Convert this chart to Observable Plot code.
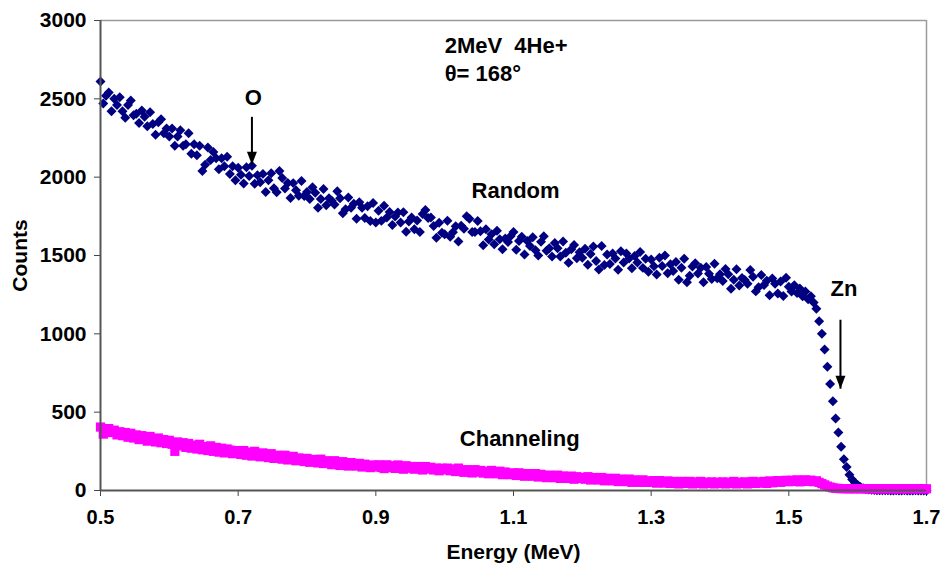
<!DOCTYPE html>
<html>
<head>
<meta charset="utf-8">
<script src="https://cdn.jsdelivr.net/npm/d3@7"></script>
<script src="https://cdn.jsdelivr.net/npm/@observablehq/plot@0.6"></script>
<style>
  html, body { margin: 0; padding: 0; background: #fff; }
  #chart svg { display: block; }
</style>
</head>
<body>
<div id="chart"></div>
<script>
// Energy channels (keV)
const energyKeV = [
  500,504,508,512,516,520,524,528,532,536,540,544,548,552,556,560,564,568,572,576,580,584,588,592,596,
  600,604,608,612,616,620,624,628,632,636,640,644,648,652,656,660,664,668,672,676,680,684,688,692,696,
  700,704,708,712,716,720,724,728,732,736,740,744,748,752,756,760,764,768,772,776,780,784,788,792,796,
  800,804,808,812,816,820,824,828,832,836,840,844,848,852,856,860,864,868,872,876,880,884,888,892,896,
  900,904,908,912,916,920,924,928,932,936,940,944,948,952,956,960,964,968,972,976,980,984,988,992,996,
  1000,1004,1008,1012,1016,1020,1024,1028,1032,1036,1040,1044,1048,1052,1056,1060,1064,1068,1072,1076,1080,1084,1088,1092,1096,
  1100,1104,1108,1112,1116,1120,1124,1128,1132,1136,1140,1144,1148,1152,1156,1160,1164,1168,1172,1176,1180,1184,1188,1192,1196,
  1200,1204,1208,1212,1216,1220,1224,1228,1232,1236,1240,1244,1248,1252,1256,1260,1264,1268,1272,1276,1280,1284,1288,1292,1296,
  1300,1304,1308,1312,1316,1320,1324,1328,1332,1336,1340,1344,1348,1352,1356,1360,1364,1368,1372,1376,1380,1384,1388,1392,1396,
  1400,1404,1408,1412,1416,1420,1424,1428,1432,1436,1440,1444,1448,1452,1456,1460,1464,1468,1472,1476,1480,1484,1488,1492,1496,
  1500,1504,1508,1512,1516,1520,1524,1528,1532,1536,1540,1544,1548,1552,1556,1560,1564,1568,1572,1576,1580,1584,1588,1592,1596,
  1600,1604,1608,1612,1616,1620,1624,1628,1632,1636,1640,1644,1648,1652,1656,1660,1664,1668,1672,1676,1680,1684,1688,1692,1696,
  1700
];

// Random spectrum counts
const randomCounts = [
  2610,2470,2520,2540,2420,2500,2460,2510,2420,2380,2460,2490,2395,2405,2345,2425,2385,2325,2415,2340,2270,2350,2370,2280,2310,
  2260,2310,2200,2260,2300,2200,2210,2280,2150,2210,2140,2200,2040,2080,2190,2110,2160,2120,2050,2120,2070,2130,2020,2070,1980,
  2060,2015,1960,2064,2008,2073,1958,2012,1967,2021,1906,1981,2025,1930,1904,2040,1994,1928,1963,1867,1962,1917,1881,1976,1880,
  1905,1860,1935,1900,1805,1860,1925,1820,1865,1850,1825,1910,1865,1770,1795,1870,1805,1830,1735,1840,1805,1740,1815,1720,1835,
  1710,1786,1721,1817,1742,1778,1694,1749,1775,1710,1776,1652,1717,1743,1668,1724,1650,1765,1790,1740,1742,1688,1613,1709,1645,
  1635,1722,1620,1648,1686,1590,1690,1670,1750,1735,1650,1650,1720,1655,1565,1668,1602,1636,1572,1658,1604,1540,1608,1586,1625,
  1650,1537,1593,1620,1507,1593,1560,1617,1533,1500,1587,1623,1530,1547,1493,1580,1547,1493,1590,1517,1453,1540,1567,1483,1520,
  1485,1543,1441,1509,1557,1465,1410,1561,1439,1507,1445,1513,1481,1409,1527,1455,1513,1481,1419,1497,1455,1523,1421,1479,1397,
  1475,1432,1379,1486,1433,1500,1387,1444,1401,1458,1345,1422,1480,1330,1370,1430,1450,1385,1422,1329,1426,1383,1350,1448,1355,
  1380,1337,1414,1381,1288,1345,1412,1309,1356,1343,1320,1407,1364,1271,1298,1375,1312,1339,1246,1353,1320,1257,1334,1241,1358,
  1300,1270,1310,1260,1290,1240,1270,1220,1240,1200,1160,1080,1000,900,790,680,570,460,370,280,200,150,100,70,50,
  35,22,15,10,6,4,3,2,2,1,1,1,0,0,1,0,0,1,0,0,0,1,0,0,0,
  0
];

// Channeling spectrum counts
const channelingCounts = [
  405,360,390,395,370,385,355,375,350,370,340,365,335,355,325,350,330,315,345,320,310,335,305,325,300,
  320,295,250,310,285,305,275,300,270,290,265,295,260,280,255,285,250,275,245,270,240,265,258,235,255,
  250,230,255,225,245,220,250,228,215,240,222,210,235,205,225,212,200,225,195,212,218,190,208,198,185,
  205,180,198,188,176,200,172,190,178,165,190,172,160,184,168,156,178,162,156,173,150,168,158,146,163,
  150,164,147,140,164,146,158,141,163,148,136,158,142,153,136,153,142,131,153,137,148,131,143,126,142,
  132,143,126,138,121,143,127,116,133,122,112,133,117,128,111,123,107,128,112,107,123,101,118,107,101,
  113,96,113,102,91,108,97,91,108,86,103,92,82,98,87,82,98,77,93,82,77,92,72,88,77,
  83,72,88,67,83,72,67,83,62,78,67,62,78,57,73,62,57,73,52,68,57,52,68,52,62,
  52,63,47,63,52,47,61,45,58,49,42,58,47,45,58,42,55,45,58,42,53,45,55,42,53,
  45,55,42,53,45,58,42,53,45,55,42,53,58,45,55,47,58,45,61,49,58,63,52,61,65,
  56,65,58,68,55,64,68,58,66,56,62,52,44,36,28,22,17,14,13,12,12,12,11,12,11,
  12,11,12,10,11,12,10,11,12,11,10,12,11,10,11,12,10,11,10,12,11,10,11,12,10,
  11
];

const xTicks = [0.5, 0.7, 0.9, 1.1, 1.3, 1.5, 1.7];
const yTicks = [0, 500, 1000, 1500, 2000, 2500, 3000];

// Annotations (energy in MeV, counts)
const beamNotes = [
  {e: 1.0, c: 2840, text: "2MeV  4He+"},
  {e: 1.0, c: 2662, text: "θ= 168°"}
];
const peakNotes = [
  {e: 0.722, c: 2508, text: "O"},
  {e: 1.103, c: 1915, text: "Random"},
  {e: 1.58,  c: 1289, text: "Zn"},
  {e: 1.109, c: 332,  text: "Channeling"}
];
const arrows = [
  {e: 0.720, c1: 2385, c2: 2080},
  {e: 1.575, c1: 1090, c2: 650}
];

const randomData = energyKeV.map((k, i) => ({E: k / 1000, C: randomCounts[i]}));
const channelData = energyKeV.map((k, i) => ({E: k / 1000, C: channelingCounts[i]}));

// Filled, downward-pointing arrow head (tip at the anchor point)
const arrowHead = {
  draw(ctx) {
    ctx.moveTo(-5, -13);
    ctx.lineTo(5, -13);
    ctx.lineTo(0, 0);
    ctx.closePath();
  }
};

const FONT = "'Liberation Sans', Arial, Helvetica, sans-serif";

const chart = Plot.plot({
  width: 941,
  height: 566,
  marginLeft: 100,
  marginRight: 15,
  marginTop: 20,
  marginBottom: 76,
  style: {fontFamily: FONT, fontWeight: "bold", background: "#fff", color: "#000", whiteSpace: "pre"},
  x: {domain: [0.5, 1.7]},
  y: {domain: [0, 3000]},
  marks: [
    Plot.ruleY([3000], {stroke: "#9a9a9a", strokeWidth: 1.5}),
    Plot.ruleX([1.7], {stroke: "#9a9a9a", strokeWidth: 1.5}),
    Plot.axisY({ticks: yTicks, tickSize: 6, tickPadding: 8, tickFormat: d3.format("d"), fontSize: 21, label: null, stroke: "#444"}),
    Plot.axisX({ticks: xTicks, tickSize: 6, tickPadding: 13, tickFormat: d3.format(".1f"), fontSize: 20, label: null, stroke: "#444"}),
    Plot.dot(randomData, {x: "E", y: "C", symbol: "diamond2", r: 4.5, fill: "#000080", stroke: "none"}),
    Plot.dot(channelData, {x: "E", y: "C", symbol: "square", r: 5.2, fill: "#ff00ff", stroke: "none"}),
    Plot.ruleX([0.5], {stroke: "#555", strokeWidth: 2}),
    Plot.ruleY([0], {stroke: "#555", strokeWidth: 2}),
    Plot.text(beamNotes, {x: "e", y: "c", text: "text", textAnchor: "start", fontSize: 22, fill: "#000"}),
    Plot.text(peakNotes, {x: "e", y: "c", text: "text", textAnchor: "middle", fontSize: 22, fill: "#000"}),
    Plot.link(arrows, {x1: "e", x2: "e", y1: "c1", y2: "c2", stroke: "#000", strokeWidth: 2}),
    Plot.dot(arrows, {x: "e", y: "c2", symbol: arrowHead, fill: "#000", stroke: "none"}),
    Plot.text(["Energy (MeV)"], {frameAnchor: "bottom", textAnchor: "middle", lineAnchor: "middle", dy: 62, fontSize: 21, fill: "#000"}),
    Plot.text(["Counts"], {frameAnchor: "left", textAnchor: "middle", lineAnchor: "middle", dx: -80, rotate: -90, fontSize: 21, fill: "#000"})
  ]
});
document.getElementById("chart").appendChild(chart);
</script>
</body>
</html>
